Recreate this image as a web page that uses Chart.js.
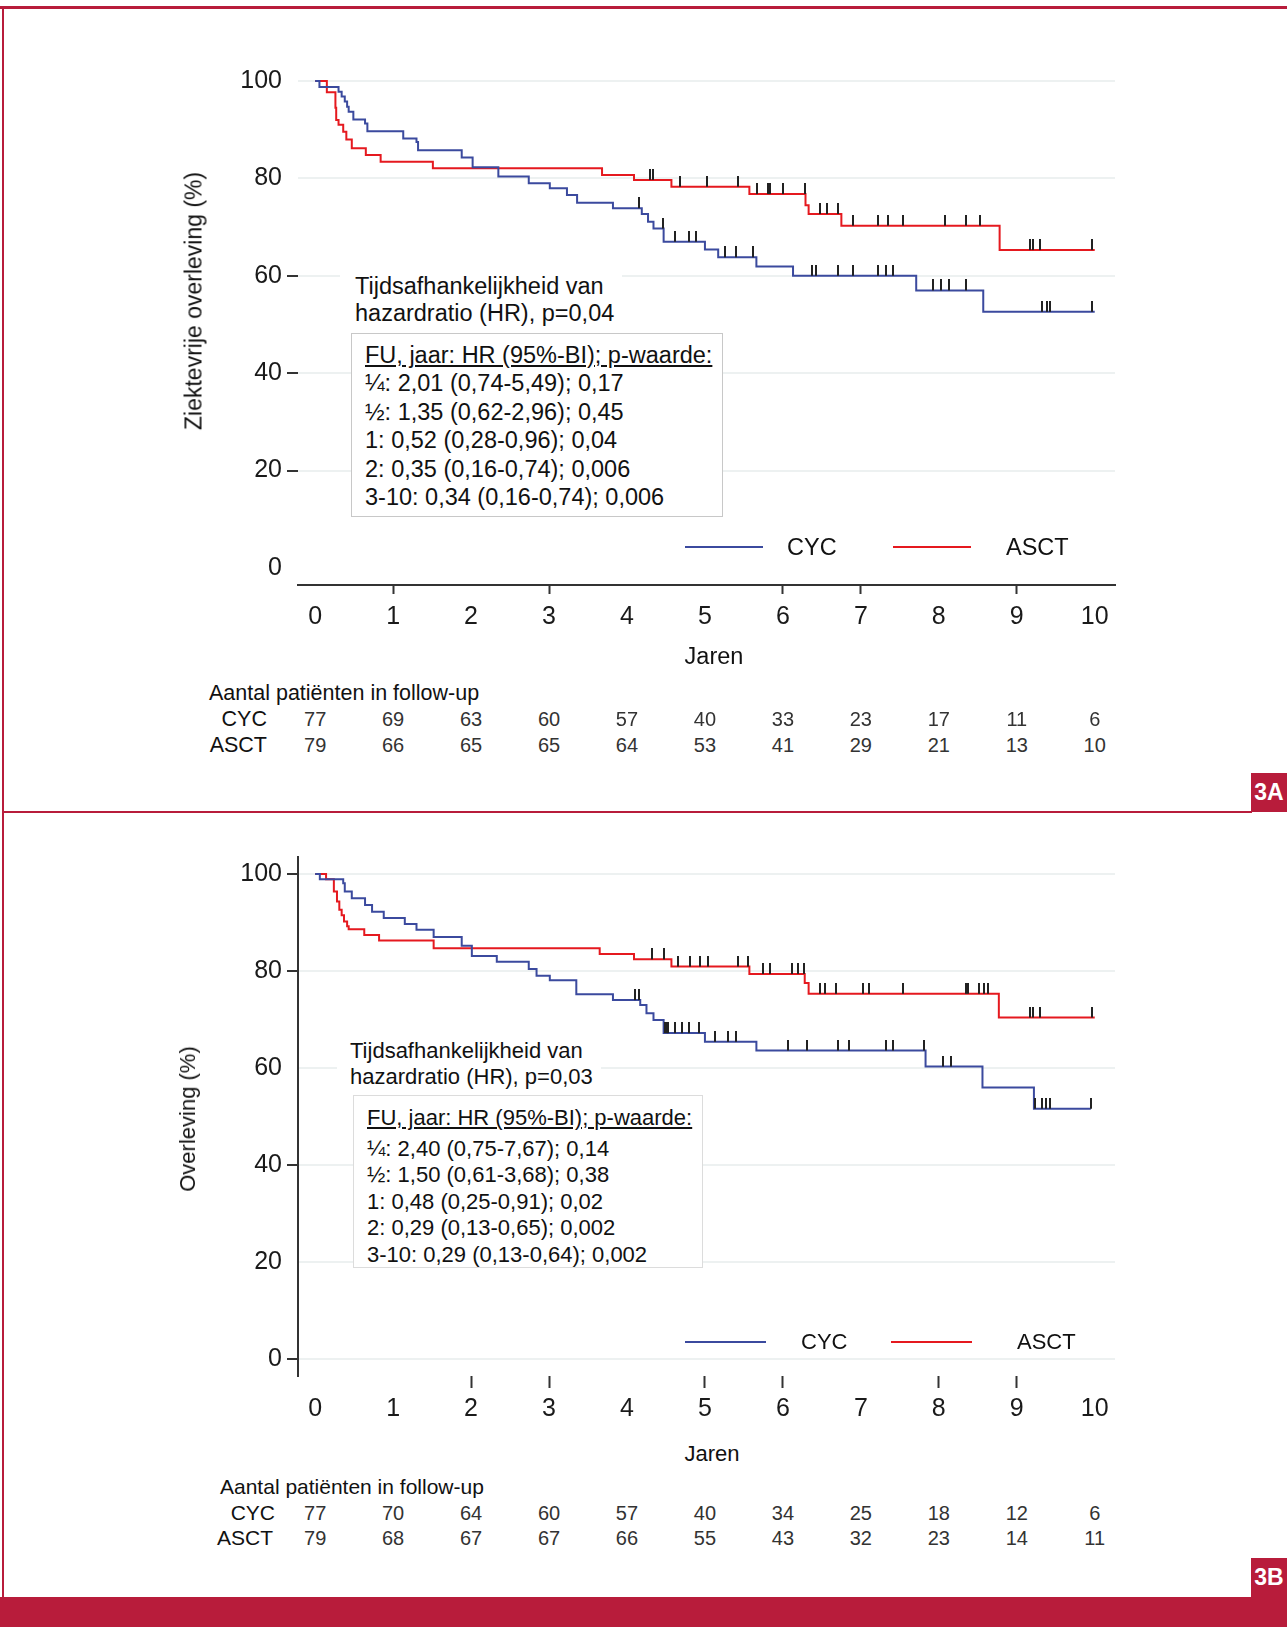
<!DOCTYPE html>
<html>
<head>
<meta charset="utf-8">
<script src="https://cdn.jsdelivr.net/npm/chart.js@4.4.1/dist/chart.umd.min.js"></script>
<style>
  body { margin: 0; background: #fff; }
  #page { position: relative; width: 1287px; height: 1627px; overflow: hidden;
          font-family: "Liberation Sans", Arial, sans-serif; color: #111; background: #fff; }
  .abs { position: absolute; white-space: nowrap; }
  .frame { position: absolute; background: #b81c3b; }
  .tag { position: absolute; width: 36px; height: 39px; background: #b81c3b; color: #fff;
         font-weight: bold; font-size: 23px; line-height: 39px; text-align: center; }
  .note { background: #fff; }
  .box { position: absolute; background: #fff; box-sizing: border-box; }
  .ytitle { position: absolute; transform: translate(-50%, -50%) rotate(-90deg); white-space: nowrap; }
  .legline { position: absolute; height: 2px; }
  .num { position: absolute; transform: translate(-50%, -50%); font-size: 20px; color: #333; }
</style>
</head>
<body>
<div id="page">
  <div class="frame" style="left:0;top:6px;width:1287px;height:3px"></div>
  <div class="frame" style="left:2px;top:6px;width:2px;height:1621px"></div>
  <div class="frame" style="left:2px;top:811px;width:1250px;height:2px"></div>
  <div class="tag" style="left:1251px;top:773px">3A</div>
  <div class="frame" style="left:0;top:1597px;width:1287px;height:30px"></div>
  <div class="tag" style="left:1251px;top:1558px">3B</div>

  <canvas id="chartA" width="990" height="640" class="abs" style="left:150px;top:30px"></canvas>
  <canvas id="chartB" width="990" height="600" class="abs" style="left:150px;top:830px"></canvas>

  <!-- panel A texts -->
  <div class="ytitle" style="left:194px;top:301px;font-size:23px">Ziektevrije overleving (%)</div>
  <div class="abs note" style="left:340px;top:273px;padding-left:15px;padding-right:8px;font-size:23.5px;line-height:27px">Tijdsafhankelijkheid van<br>hazardratio (HR), p=0,04</div>
  <div class="box" style="left:351px;top:333px;width:372px;height:184px;border:1.5px solid #c8c8c8;padding:7px 0 0 13px;font-size:23.5px;line-height:28.4px">
    <u>FU, jaar: HR (95%-BI); p-waarde:</u><br>
    ¼: 2,01 (0,74-5,49); 0,17<br>
    ½: 1,35 (0,62-2,96); 0,45<br>
    1: 0,52 (0,28-0,96); 0,04<br>
    2: 0,35 (0,16-0,74); 0,006<br>
    3-10: 0,34 (0,16-0,74); 0,006
  </div>
  <div class="legline" style="left:685px;top:546px;width:78px;background:#3b4a9e"></div>
  <div class="abs" style="left:787px;top:533px;font-size:23.5px;line-height:28px">CYC</div>
  <div class="legline" style="left:893px;top:546px;width:78px;background:#e5191f"></div>
  <div class="abs" style="left:1006px;top:533px;font-size:23.5px;line-height:28px">ASCT</div>
  <div class="abs" style="left:714px;top:656px;transform:translate(-50%,-50%);font-size:23.5px">Jaren</div>
  <div class="abs" style="left:209px;top:693px;transform:translateY(-50%);font-size:21.5px">Aantal patiënten in follow-up</div>
  <div class="abs" style="left:267px;top:719px;transform:translate(-100%,-50%);font-size:21.5px">CYC</div>
  <div class="abs" style="left:267px;top:745px;transform:translate(-100%,-50%);font-size:21.5px">ASCT</div>

  <!-- panel B texts -->
  <div class="ytitle" style="left:188px;top:1119px;font-size:22px">Overleving (%)</div>
  <div class="abs note" style="left:337px;top:1038px;padding-left:13px;padding-right:8px;font-size:22px;line-height:26px">Tijdsafhankelijkheid van<br>hazardratio (HR), p=0,03</div>
  <div class="box" style="left:353px;top:1095px;width:350px;height:173px;border:1.5px solid #dcdcdc;padding:9px 0 0 13px;font-size:22px;line-height:26.5px">
    <div style="margin-bottom:4px"><u>FU, jaar: HR (95%-BI); p-waarde:</u></div>
    ¼: 2,40 (0,75-7,67); 0,14<br>
    ½: 1,50 (0,61-3,68); 0,38<br>
    1: 0,48 (0,25-0,91); 0,02<br>
    2: 0,29 (0,13-0,65); 0,002<br>
    3-10: 0,29 (0,13-0,64); 0,002
  </div>
  <div class="legline" style="left:685px;top:1341px;width:81px;background:#3b4a9e"></div>
  <div class="abs" style="left:801px;top:1329px;font-size:22px;line-height:26px">CYC</div>
  <div class="legline" style="left:891px;top:1341px;width:81px;background:#e5191f"></div>
  <div class="abs" style="left:1017px;top:1329px;font-size:22px;line-height:26px">ASCT</div>
  <div class="abs" style="left:712px;top:1454px;transform:translate(-50%,-50%);font-size:22px">Jaren</div>
  <div class="abs" style="left:220px;top:1487px;transform:translateY(-50%);font-size:21px">Aantal patiënten in follow-up</div>
  <div class="abs" style="left:275px;top:1513px;transform:translate(-100%,-50%);font-size:21px">CYC</div>
  <div class="abs" style="left:273px;top:1538px;transform:translate(-100%,-50%);font-size:21px">ASCT</div>
</div>

<script>
const BLUE = '#3b4a9e';
const RED = '#e5191f';

// x axis: years
const years = [0, 1, 2, 3, 4, 5, 6, 7, 8, 9, 10];
const yTicks = [0, 20, 40, 60, 80, 100];

// ---- 3A: ziektevrije overleving ----
const cycA_t = [0, 0.055, 0.30, 0.34, 0.38, 0.41, 0.43, 0.49, 0.64, 0.67, 1.13, 1.30, 1.32, 1.88, 2.02, 2.35,
  2.74, 3.01, 3.23, 3.36, 3.82, 4.19, 4.27, 4.34, 4.47, 5.00, 5.17, 5.66, 6.13, 7.71, 8.57, 10.0];
const cycA_s = [100, 98.8, 97.8, 96.8, 95.8, 94.7, 93.7, 92.1, 91.3, 89.7, 88.2, 87.5, 85.8, 84.3, 82.3, 80.4,
  79.0, 78.0, 76.6, 75.0, 73.9, 72.7, 71.1, 69.7, 67.0, 65.4, 63.8, 61.9, 60.0, 57.0, 52.6, 52.6];
const cycA_cens = [4.15, 4.46, 4.62, 4.79, 4.89, 5.26, 5.40, 5.62, 6.37, 6.43, 6.71, 6.90, 7.22, 7.32, 7.41,
  7.92, 8.03, 8.13, 8.35, 9.32, 9.39, 9.43, 9.96];

const asctA_t = [0, 0.15, 0.26, 0.27, 0.30, 0.36, 0.40, 0.47, 0.65, 0.84, 1.51, 3.68, 4.09, 4.57, 5.57,
  6.29, 6.33, 6.75, 8.78, 10.0];
const asctA_s = [100, 97.7, 94.5, 92.0, 91.0, 89.6, 88.0, 86.2, 84.8, 83.4, 82.1, 80.7, 79.7, 78.3, 76.8,
  74.5, 72.7, 70.3, 65.3, 65.3];
const asctA_cens = [4.29, 4.34, 4.68, 5.02, 5.43, 5.67, 5.81, 5.83, 6.00, 6.28, 6.48, 6.56, 6.71, 6.90, 7.22,
  7.35, 7.54, 8.08, 8.35, 8.53, 9.17, 9.21, 9.30, 9.96];

const riskA_cyc = [77, 69, 63, 60, 57, 40, 33, 23, 17, 11, 6];
const riskA_asct = [79, 66, 65, 65, 64, 53, 41, 29, 21, 13, 10];

// ---- 3B: overleving ----
const cycB_t = [0, 0.06, 0.36, 0.38, 0.47, 0.64, 0.73, 0.88, 1.15, 1.30, 1.52, 1.88, 2.01, 2.33, 2.74, 2.84,
  3.01, 3.35, 3.82, 4.17, 4.25, 4.34, 4.47, 5.00, 5.66, 7.83, 8.56, 9.22, 9.95];
const cycB_s = [100, 98.9, 98.1, 96.4, 95.0, 93.6, 92.2, 90.9, 89.7, 88.5, 87.0, 85.2, 83.1, 81.9, 80.4, 79.0,
  78.1, 75.2, 74.0, 73.0, 71.3, 69.9, 67.2, 65.4, 63.6, 60.3, 56.0, 51.6, 51.6];
const cycB_cens = [4.10, 4.15, 4.49, 4.51, 4.53, 4.62, 4.70, 4.80, 4.92, 5.13, 5.30, 5.40, 6.07, 6.31, 6.71,
  6.85, 7.32, 7.41, 7.81, 8.06, 8.16, 9.24, 9.32, 9.38, 9.43, 9.95];

const asctB_t = [0, 0.14, 0.24, 0.28, 0.31, 0.34, 0.37, 0.41, 0.43, 0.63, 0.82, 1.52, 3.65, 4.09, 4.57, 5.57,
  6.28, 6.33, 8.77, 10.0];
const asctB_s = [100, 98.9, 96.4, 94.3, 92.6, 91.5, 90.2, 89.2, 88.6, 87.4, 86.3, 84.7, 83.5, 82.4, 80.9, 79.4,
  77.5, 75.3, 70.4, 70.4];
const asctB_cens = [4.32, 4.47, 4.66, 4.81, 4.94, 5.04, 5.43, 5.55, 5.75, 5.84, 6.12, 6.20, 6.27, 6.47, 6.54,
  6.68, 7.03, 7.11, 7.54, 8.35, 8.37, 8.52, 8.58, 8.63, 9.17, 9.21, 9.30, 9.96];

const riskB_cyc = [77, 70, 64, 60, 57, 40, 34, 25, 18, 12, 6];
const riskB_asct = [79, 68, 67, 67, 66, 55, 43, 32, 23, 14, 11];

// which ticks get a tick mark / grid line
const xMarksA = [1, 3, 6, 7, 9];
const yMarksA = [20, 40, 60];
const yGridA = [20, 40, 60, 80, 100];
const xMarksB = [2, 3, 5, 6, 8, 9];
const yMarksB = [0, 40, 80, 100];
const yGridB = [0, 20, 40, 60, 80, 100];

function survAt(t, times, surv) {
  let s = surv[0];
  times.forEach((x, i) => { if (x <= t) s = surv[i]; });
  return s;
}

// small vertical censor mark, sits on top of the curve
const censMark = document.createElement('canvas');
censMark.width = 2; censMark.height = 22;
const cm = censMark.getContext('2d');
cm.fillStyle = '#222';
cm.fillRect(0, 0, 2, 11);

function curve(times, surv, color) {
  return {
    type: 'line',
    data: times.map((t, i) => ({ x: t, y: surv[i] })),
    borderColor: color, borderWidth: 2, stepped: true,
    pointRadius: 0, fill: false, order: 2
  };
}
function censored(cens, times, surv) {
  return {
    type: 'scatter',
    data: cens.map(t => ({ x: t, y: survAt(t, times, surv) })),
    pointStyle: censMark, pointRadius: 5, order: 1
  };
}

function makeChart(id, datasets, opt) {
  const none = 'rgba(0,0,0,0)';
  return new Chart(document.getElementById(id), {
    type: 'line',
    data: { datasets: datasets },
    options: {
      responsive: false,
      animation: false,
      layout: { padding: { left: 0, right: 25, top: opt.top, bottom: 0 } },
      plugins: { legend: { display: false }, tooltip: { enabled: false } },
      scales: {
        x: {
          type: 'linear', min: -0.22, max: 10.26,
          afterBuildTicks: s => { s.ticks = years.map(v => ({ value: v })); },
          afterFit: s => { s.height = opt.xHeight; },
          ticks: { font: { family: '"Liberation Sans", Arial', size: 25 }, color: '#1a1a1a', padding: opt.xPad },
          grid: {
            drawOnChartArea: false, tickLength: opt.xTick, tickWidth: 2,
            tickColor: c => opt.xMarks.includes(c.tick.value) ? '#333' : none
          },
          border: { display: opt.xBorder, color: '#333', width: 2 }
        },
        y: {
          min: -3.5, max: 103.5,
          afterBuildTicks: s => { s.ticks = yTicks.map(v => ({ value: v })); },
          afterFit: s => { s.width = 148; },
          ticks: { font: { family: '"Liberation Sans", Arial', size: 25 }, color: '#1a1a1a', padding: 5 },
          grid: {
            color: c => opt.yGrid.includes(c.tick.value) ? '#edf1f1' : none,
            lineWidth: 2, tickLength: 11, tickWidth: 2,
            tickColor: c => opt.yMarks.includes(c.tick.value) ? '#333' : none
          },
          border: { display: opt.yBorder, color: '#333', width: 2 }
        }
      }
    }
  });
}

const chartA = makeChart('chartA', [
  curve(cycA_t, cycA_s, BLUE), curve(asctA_t, asctA_s, RED),
  censored(cycA_cens, cycA_t, cycA_s), censored(asctA_cens, asctA_t, asctA_s)
], { top: 34, xHeight: 85, xPad: 8, xTick: 9, xMarks: xMarksA, yMarks: yMarksA, yGrid: yGridA,
     xBorder: true, yBorder: false });

const chartB = makeChart('chartB', [
  curve(cycB_t, cycB_s, BLUE), curve(asctB_t, asctB_s, RED),
  censored(cycB_cens, cycB_t, cycB_s), censored(asctB_cens, asctB_t, asctB_s)
], { top: 27, xHeight: 54, xPad: 6, xTick: 12, xMarks: xMarksB, yMarks: yMarksB, yGrid: yGridB,
     xBorder: false, yBorder: true });

// numbers at risk, placed under the year ticks
function riskRow(chart, canvasLeft, rowY, values) {
  const page = document.getElementById('page');
  values.forEach((v, i) => {
    const d = document.createElement('div');
    d.className = 'num';
    d.style.left = (canvasLeft + chart.scales.x.getPixelForValue(years[i])) + 'px';
    d.style.top = rowY + 'px';
    d.textContent = v;
    page.appendChild(d);
  });
}
riskRow(chartA, 150, 719, riskA_cyc);
riskRow(chartA, 150, 745, riskA_asct);
riskRow(chartB, 150, 1513, riskB_cyc);
riskRow(chartB, 150, 1538, riskB_asct);
</script>
</body>
</html>
